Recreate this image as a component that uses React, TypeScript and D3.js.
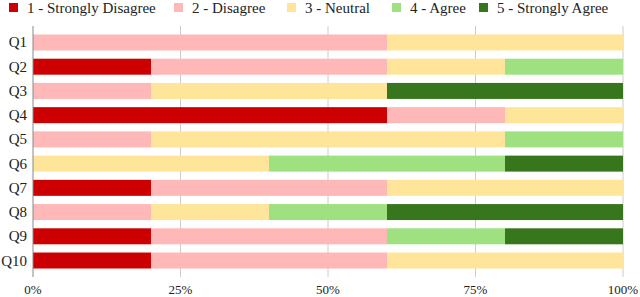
import React from "react";
import * as d3 from "d3";

const questions = ["Q1", "Q2", "Q3", "Q4", "Q5", "Q6", "Q7", "Q8", "Q9", "Q10"];
const seriesNames = ["1 - Strongly Disagree", "2 - Disagree", "3 - Neutral", "4 - Agree", "5 - Strongly Agree"];
const seriesColors = ["#cc0000", "#ffb8b8", "#ffe599", "#9fe080", "#38761d"];
const stronglyDisagree = [0, 20, 0, 60, 0, 0, 20, 0, 20, 20];
const disagree = [60, 40, 20, 20, 20, 0, 40, 20, 40, 40];
const neutral = [40, 20, 40, 20, 60, 40, 40, 20, 0, 40];
const agree = [0, 20, 0, 0, 20, 40, 0, 20, 20, 0];
const stronglyAgree = [0, 0, 40, 0, 0, 20, 0, 40, 20, 0];
const tickValues = [0, 25, 50, 75, 100];

const W = 640;
const H = 297;
const FONT = "'Liberation Serif', serif";

export default function App() {
  const series = [stronglyDisagree, disagree, neutral, agree, stronglyAgree];
  const rows = questions.map((q, i) => {
    const o: any = { q };
    seriesNames.forEach((s, j) => (o[s] = series[j][i]));
    return o;
  });
  const stacked = d3.stack().keys(seriesNames)(rows);

  const x = d3.scaleLinear().domain([0, 100]).range([33, 623]);
  const y = d3.scaleBand().domain(questions).range([26, 277]).paddingInner(0.34).paddingOuter(0.35);

  const legendX = [9, 174, 287, 392, 479];

  return (
    <svg width={W} height={H} style={{ position: "absolute", left: 0, top: 0, fontFamily: FONT }}>
      <rect width={W} height={H} fill="#fff" />
      {seriesNames.map((s, i) => (
        <g key={s} transform={`translate(${legendX[i]},0)`}>
          <rect x={0} y={3} width={9} height={9} fill={seriesColors[i]} />
          <text x={18} y={13} fontSize={15} fill="#222">{s}</text>
        </g>
      ))}
      {tickValues.slice(1).map((t) => (
        <line key={t} x1={x(t)} x2={x(t)} y1={26} y2={277} stroke="#cccccc" strokeWidth={1} />
      ))}
      {stacked.map((layer, i) => (
        <g key={layer.key} fill={seriesColors[i]}>
          {layer.map((d, j) =>
            d[1] - d[0] > 0 ? (
              <rect
                key={j}
                x={x(d[0])}
                y={y(questions[j])}
                width={x(d[1]) - x(d[0])}
                height={y.bandwidth()}
              />
            ) : null
          )}
        </g>
      ))}
      <line x1={33} x2={33} y1={26} y2={277} stroke="#888" strokeWidth={1} />
      {questions.map((q) => (
        <text key={q} x={27} y={(y(q) as number) + y.bandwidth() / 2 + 5} textAnchor="end" fontSize={15} fill="#222">
          {q}
        </text>
      ))}
      {tickValues.map((t) => (
        <text key={t} x={x(t)} y={294} textAnchor="middle" fontSize={13} fill="#222">
          {t}%
        </text>
      ))}
    </svg>
  );
}
